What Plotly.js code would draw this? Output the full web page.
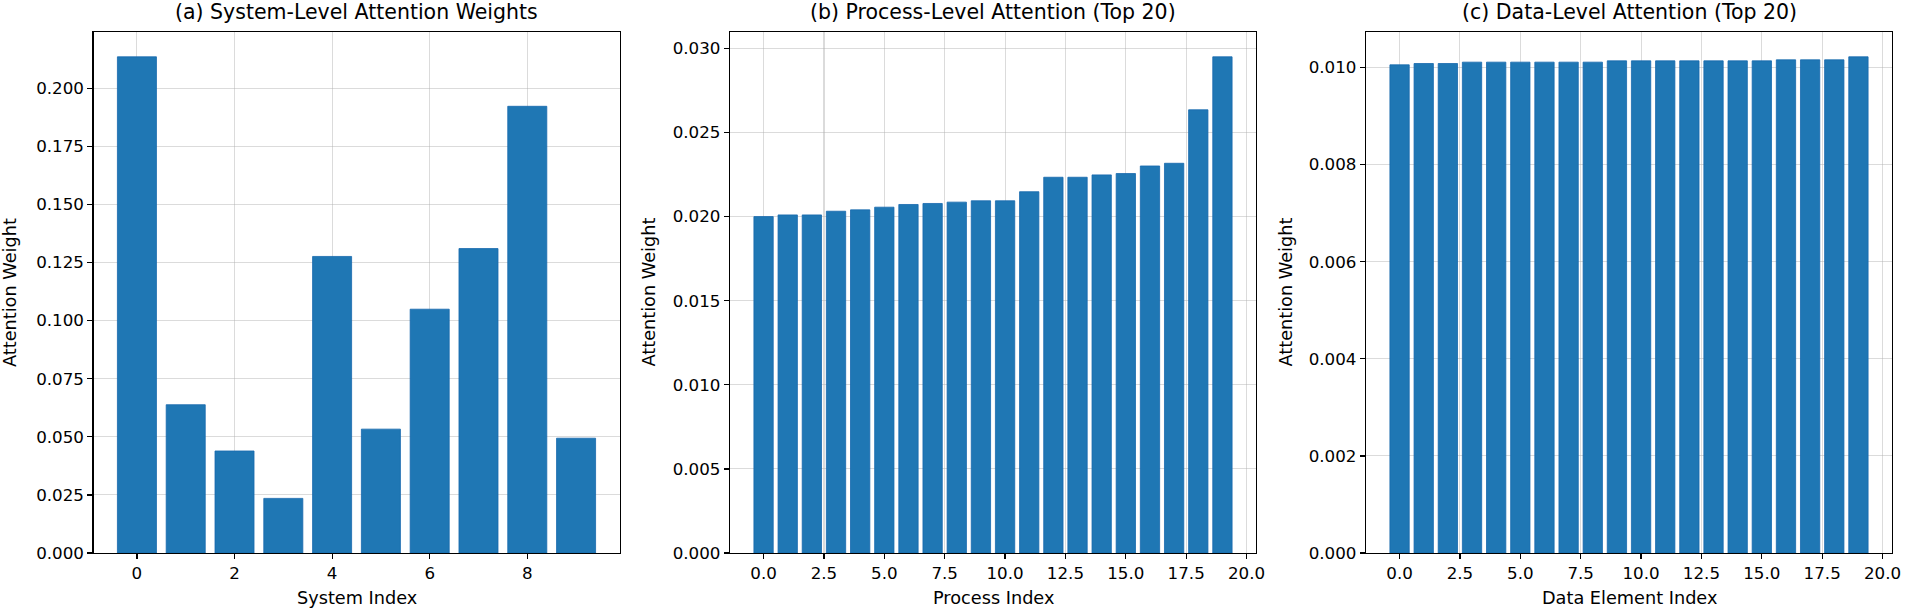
<!DOCTYPE html>
<html>
<head>
<meta charset="utf-8">
<script src="https://cdn.plot.ly/plotly-3.0.1.min.js"></script>
<style>
  html, body { margin: 0; padding: 0; background: #ffffff; }
  #chart { width: 1905px; height: 611px; }
</style>
</head>
<body>
<div id="chart"></div>
<script>
// ---- Data ----
const systemIndex = [0, 1, 2, 3, 4, 5, 6, 7, 8, 9];
const systemWeights = [0.2135, 0.0638, 0.0439, 0.0235, 0.1276, 0.0533, 0.1049, 0.1310, 0.1922, 0.0494];

const processIndex = [0, 1, 2, 3, 4, 5, 6, 7, 8, 9, 10, 11, 12, 13, 14, 15, 16, 17, 18, 19];
const processWeights = [0.02000, 0.02010, 0.02010, 0.02032, 0.02040, 0.02056, 0.02072, 0.02078, 0.02086, 0.02094,
                        0.02094, 0.02148, 0.02234, 0.02234, 0.02248, 0.02256, 0.02301, 0.02317, 0.02635, 0.02950];

const dataIndex = [0, 1, 2, 3, 4, 5, 6, 7, 8, 9, 10, 11, 12, 13, 14, 15, 16, 17, 18, 19];
const dataWeights = [0.010055, 0.010082, 0.010082, 0.010110, 0.010110, 0.010110, 0.010110, 0.010110, 0.010110, 0.010137,
                     0.010137, 0.010137, 0.010137, 0.010137, 0.010137, 0.010137, 0.010158, 0.010158, 0.010158, 0.010220];

const panelTitles = ['(a) System-Level Attention Weights', '(b) Process-Level Attention (Top 20)', '(c) Data-Level Attention (Top 20)'];
const xTitles = ['System Index', 'Process Index', 'Data Element Index'];
const yTitle = 'Attention Weight';

// ---- Styling ----
const FONT = 'DejaVu Sans, sans-serif';
const barColor = '#1f77b4';
const edgeColor = '#1668ad';
const gridColor = 'rgba(176,176,176,0.45)';

function barTrace(x, y, xa, ya) {
  return {
    type: 'bar', x: x, y: y, xaxis: xa, yaxis: ya, width: 0.8,
    marker: { color: barColor, line: { color: edgeColor, width: 0.8 } },
    showlegend: false, hoverinfo: 'x+y'
  };
}

function pad(arrMax) { return arrMax * 1.05; }
function xRange(n) { const lo = -0.4, hi = n - 1 + 0.4, m = (hi - lo) * 0.05; return [lo - m, hi + m]; }

const common = {
  showline: true, mirror: true, linecolor: '#000000', linewidth: 1.2,
  ticks: 'outside', ticklen: 5, tickwidth: 1.2, tickcolor: '#000000',
  showgrid: true, gridcolor: gridColor, gridwidth: 1.1,
  zeroline: false, layer: 'above traces',
  tickfont: { family: FONT, size: 16.7, color: '#000000' },
  automargin: false
};

const L = 93, R = 13, T = 32, B = 58;
const plotW = 1905 - L - R;
function dom(px0, px1) { return [(px0 - L) / plotW, (px1 - L) / plotW]; }

const layout = {
  width: 1905, height: 611,
  margin: { l: L, r: R, t: T, b: B, pad: 0 },
  paper_bgcolor: '#ffffff', plot_bgcolor: '#ffffff',
  font: { family: FONT, color: '#000000' },
  showlegend: false,
  xaxis: Object.assign({}, common, { domain: dom(93.5, 619.5), anchor: 'y', range: xRange(systemIndex.length), tick0: 0, dtick: 2 }),
  yaxis: Object.assign({}, common, { domain: [0, 1], anchor: 'x', range: [0, pad(Math.max(...systemWeights))], tick0: 0, dtick: 0.025, tickformat: '.3f' }),
  xaxis2: Object.assign({}, common, { domain: dom(730, 1256), anchor: 'y2', range: xRange(processIndex.length), tick0: 0, dtick: 2.5, tickformat: '.1f' }),
  yaxis2: Object.assign({}, common, { domain: [0, 1], anchor: 'x2', range: [0, pad(Math.max(...processWeights))], tick0: 0, dtick: 0.005, tickformat: '.3f' }),
  xaxis3: Object.assign({}, common, { domain: dom(1366, 1892), anchor: 'y3', range: xRange(dataIndex.length), tick0: 0, dtick: 2.5, tickformat: '.1f' }),
  yaxis3: Object.assign({}, common, { domain: [0, 1], anchor: 'x3', range: [0, pad(Math.max(...dataWeights))], tick0: 0, dtick: 0.002, tickformat: '.3f' }),
  annotations: []
};

const axIds = [['x', 'y'], ['x2', 'y2'], ['x3', 'y3']];
const yShifts = [-84, -82, -81];
axIds.forEach(([xa, ya], i) => {
  layout.annotations.push({
    text: panelTitles[i], xref: xa + ' domain', yref: ya + ' domain', x: 0.5, y: 1,
    xanchor: 'center', yanchor: 'bottom', yshift: 6, showarrow: false,
    font: { family: FONT, size: 20.5, color: '#000000' }
  });
  layout.annotations.push({
    text: xTitles[i], xref: xa + ' domain', yref: ya + ' domain', x: 0.5, y: 0,
    xanchor: 'center', yanchor: 'top', yshift: -33, showarrow: false,
    font: { family: FONT, size: 17.7, color: '#000000' }
  });
  layout.annotations.push({
    text: yTitle, xref: xa + ' domain', yref: ya + ' domain', x: 0, y: 0.5,
    xanchor: 'center', yanchor: 'middle', xshift: yShifts[i], textangle: -90, showarrow: false,
    font: { family: FONT, size: 17.7, color: '#000000' }
  });
});

const data = [
  barTrace(systemIndex, systemWeights, 'x', 'y'),
  barTrace(processIndex, processWeights, 'x2', 'y2'),
  barTrace(dataIndex, dataWeights, 'x3', 'y3')
];

Plotly.newPlot('chart', data, layout, { displayModeBar: false, staticPlot: true });
</script>
</body>
</html>
